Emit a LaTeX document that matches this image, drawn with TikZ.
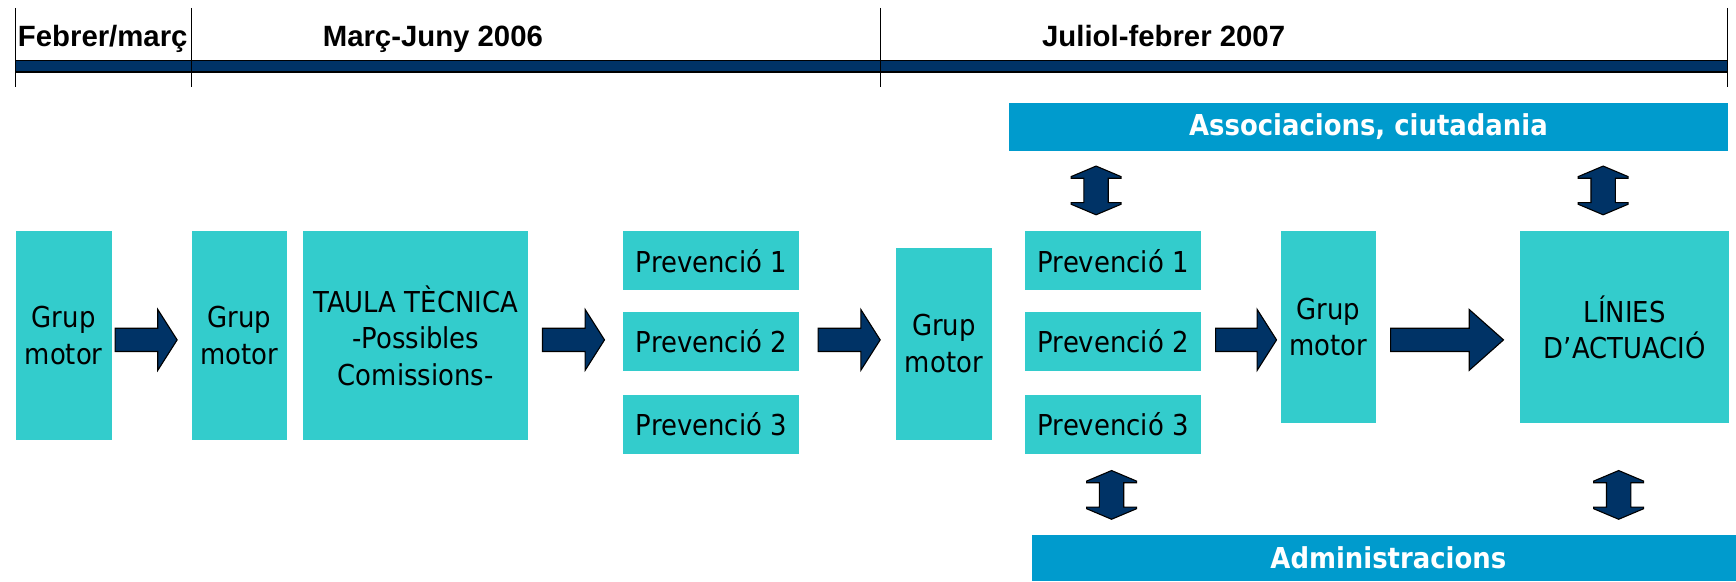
\documentclass[tikz,border=0pt]{standalone}
\usepackage{fontspec}
\setmainfont{Liberation Sans}
\newfontfamily\boxfont{DejaVu Sans}[FakeStretch=0.9]
\usetikzlibrary{calc}
\definecolor{cyanbox}{RGB}{51,204,204}
\definecolor{barblue}{RGB}{0,155,205}
\definecolor{navy}{RGB}{0,51,102}
\tikzset{
  box/.style={fill=cyanbox, draw=none, inner sep=0pt, align=center, text=black,
    font=\boxfont\fontsize{26}{33}\selectfont},
  bluebar/.style={fill=barblue, draw=none, inner sep=0pt, text=white,
    font=\boxfont\bfseries\fontsize{26}{30}\selectfont},
  period/.style={inner sep=0pt, anchor=base, font=\bfseries\fontsize{26.5}{30}\selectfont},
  tickline/.style={draw=black, line width=1.2pt},
  arrowshape/.style={fill=navy, draw=black, line width=1pt, line join=miter},
}
\newcommand\blockarrow[3]{%
  \draw[arrowshape] let \p1=#1, \p2=#2 in
    (\x1,\y1+10.5) -- (\x2-#3,\y1+10.5) -- (\x2-#3,\y1+27.5) -- (\x2,\y1)
    -- (\x2-#3,\y1-27.5) -- (\x2-#3,\y1-10.5) -- (\x1,\y1-10.5) -- cycle;}
\newcommand\dblarrow[2]{%
  \draw[arrowshape] let \p1=#1, \p2=#2 in
    (\x1,\y1) -- (\x1+22.5,\y1-9.5) -- (\x1+22.5,\y1-11) -- (\x1+11,\y1-11)
    -- (\x1+11,\y2+11) -- (\x1+22.5,\y2+11) -- (\x1+22.5,\y2+9.5) -- (\x1,\y2)
    -- (\x1-22.5,\y2+9.5) -- (\x1-22.5,\y2+11) -- (\x1-11,\y2+11)
    -- (\x1-11,\y1-11) -- (\x1-22.5,\y1-11) -- (\x1-22.5,\y1-9.5) -- cycle;}
\begin{document}
\begin{tikzpicture}[x=1pt,y=-1pt]
\useasboundingbox (0,0) rectangle (1568,525);
% timeline
\draw[fill=navy, draw=black, line width=1pt] (14,55) rectangle (1560,65);
\foreach \tx/\nm in {14/t1,173/t2,795/t3,1560/t4}{
  \coordinate (\nm a) at (\tx,7);
  \coordinate (\nm b) at (\tx,79);
  \draw[tickline] (\nm a) -- (\nm b);
}
\node[period, anchor=base west] (per1) at (16,42) {Febrer/març};
\node[period] (per2) at (391,42) {Març-Juny 2006};
\node[period] (per3) at (1051,42) {Juliol-febrer 2007};
% bars
\node[bluebar, minimum width=650pt, minimum height=43pt] (assoc) at (1236,114.5) {Associacions, ciutadania};
\node[bluebar, minimum width=636pt, minimum height=42pt] (admin) at (1250,504) {\hspace*{8pt}Administracions};
% boxes
\node[box, minimum width=87pt, minimum height=188pt] (g1) at (57.5,303) {Grup\\motor};
\node[box, minimum width=86pt, minimum height=188pt] (g2) at (216,303) {Grup\\motor};
\node[box, minimum width=203pt, minimum height=188pt] (taula) at (375.5,303) {TAULA TÈCNICA\\-Possibles\\Comissions-};
\node[box, minimum width=159pt, minimum height=53pt] (p1) at (642.5,235.5) {Prevenció 1};
\node[box, minimum width=159pt, minimum height=53pt] (p2) at (642.5,308.5) {Prevenció 2};
\node[box, minimum width=159pt, minimum height=53pt] (p3) at (642.5,383.5) {Prevenció 3};
\node[box, minimum width=87pt, minimum height=173pt] (g3) at (852.5,310.5) {Grup\\motor};
\node[box, minimum width=159pt, minimum height=53pt] (q1) at (1005.5,235.5) {Prevenció 1};
\node[box, minimum width=159pt, minimum height=53pt] (q2) at (1005.5,308.5) {Prevenció 2};
\node[box, minimum width=159pt, minimum height=53pt] (q3) at (1005.5,383.5) {Prevenció 3};
\node[box, minimum width=86pt, minimum height=173pt] (g4) at (1200,295.5) {Grup\\motor};
\node[box, minimum width=189pt, minimum height=173pt] (lin) at (1467.5,295.5) {LÍNIES\\D’ACTUACIÓ};
% block arrows
\coordinate (a1s) at (104,307);  \coordinate (a1e) at (160,307);
\coordinate (a2s) at (490,307);  \coordinate (a2e) at (546,307);
\coordinate (a3s) at (739,307);  \coordinate (a3e) at (795,307);
\coordinate (a4s) at (1098,307); \coordinate (a4e) at (1153,307);
\coordinate (a5s) at (1256,307); \coordinate (a5e) at (1358,307);
\blockarrow{(a1s)}{(a1e)}{17.5}
\blockarrow{(a2s)}{(a2e)}{17.5}
\blockarrow{(a3s)}{(a3e)}{17.5}
\blockarrow{(a4s)}{(a4e)}{17.5}
\blockarrow{(a5s)}{(a5e)}{31}
% double arrows
\coordinate (d1t) at (990,150);  \coordinate (d1b) at (990,194);
\coordinate (d2t) at (1448,150); \coordinate (d2b) at (1448,194);
\coordinate (d3t) at (1004,425); \coordinate (d3b) at (1004,469);
\coordinate (d4t) at (1462,425); \coordinate (d4b) at (1462,469);
\dblarrow{(d1t)}{(d1b)}
\dblarrow{(d2t)}{(d2b)}
\dblarrow{(d3t)}{(d3b)}
\dblarrow{(d4t)}{(d4b)}
\end{tikzpicture}
\end{document}
